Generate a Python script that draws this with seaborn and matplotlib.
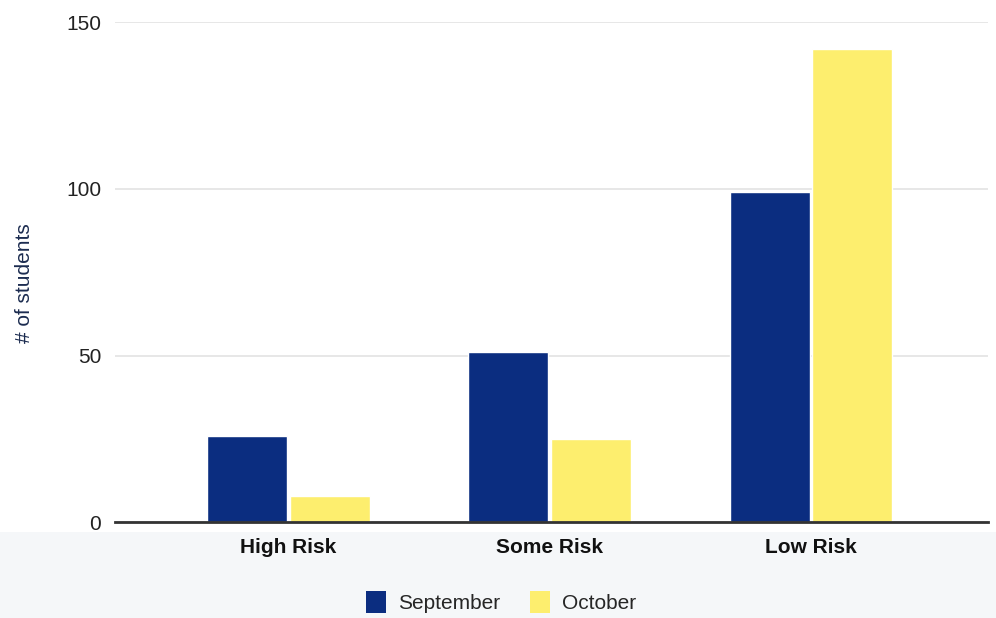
import matplotlib
matplotlib.use("Agg")
import matplotlib.pyplot as plt
import seaborn as sns
import pandas as pd
from matplotlib.patches import Rectangle

# Student counts by risk level, two months
categories = ["High Risk", "Some Risk", "Low Risk"]
months = ["September", "October"]
september = [26, 51, 99]
october = [8, 25, 142]
y_ticks = [0, 50, 100, 150]

navy = "#0b2d80"
yellow = "#fdee6e"

df = pd.DataFrame({
    "risk": categories * 2,
    "month": [months[0]] * 3 + [months[1]] * 3,
    "students": september + october,
})

sns.set_theme(style="white")
plt.rcParams["font.family"] = ["Liberation Sans", "DejaVu Sans"]

fig = plt.figure(figsize=(9.96, 6.18), dpi=100)
fig.patch.set_facecolor("white")
# faint tinted band behind the category labels and legend
fig.patches.append(Rectangle((0, 0), 1, (618 - 532) / 618, transform=fig.transFigure,
                             facecolor="#f5f7f9", edgecolor="none", zorder=-5))

ax = fig.add_axes([115 / 996, (618 - 522.3) / 618, (988 - 115) / 996, (522.3 - 22) / 618])
ax.set_facecolor("white")
ax.patch.set_alpha(0)

sns.barplot(data=df, x="risk", y="students", hue="month", order=categories,
            hue_order=months, palette=[navy, yellow], width=0.632, gap=0.03,
            saturation=1, ax=ax, legend=False)

ax.set_ylim(0, 150)
ax.set_xlim(-0.664, 2.678)
ax.set_yticks(y_ticks)
ax.set_yticklabels([str(v) for v in y_ticks])
ax.yaxis.grid(True, color="#e3e3e3", linewidth=1.2)
ax.set_axisbelow(True)
for s in ["top", "right", "left"]:
    ax.spines[s].set_visible(False)
ax.spines["bottom"].set_color("#333333")
ax.spines["bottom"].set_linewidth(2)
ax.spines["bottom"].set_zorder(5)

ax.tick_params(axis="y", length=0, pad=10, labelsize=15, labelcolor="#222222")
ax.tick_params(axis="x", length=0, pad=11, labelsize=15, labelcolor="#111111")
for lab in ax.get_xticklabels():
    lab.set_fontweight("bold")
ax.set_xlabel("")
ax.set_ylabel("")

fig.text(25 / 996, 1 - 283 / 618, "# of students", rotation=90, ha="center",
         va="center", fontsize=15, color="#1b2b4f")

handles = [Rectangle((0, 0), 1, 1, facecolor=navy, edgecolor="none"),
           Rectangle((0, 0), 1, 1, facecolor=yellow, edgecolor="none")]
fig.legend(handles, months, loc="center", bbox_to_anchor=(501 / 996, 1 - 602 / 618),
           ncol=2, frameon=False, fontsize=15, handlelength=0.96, handleheight=1.25,
           handletextpad=0.58, columnspacing=1.4)

fig.savefig("out.png", dpi=100, facecolor=fig.get_facecolor())
